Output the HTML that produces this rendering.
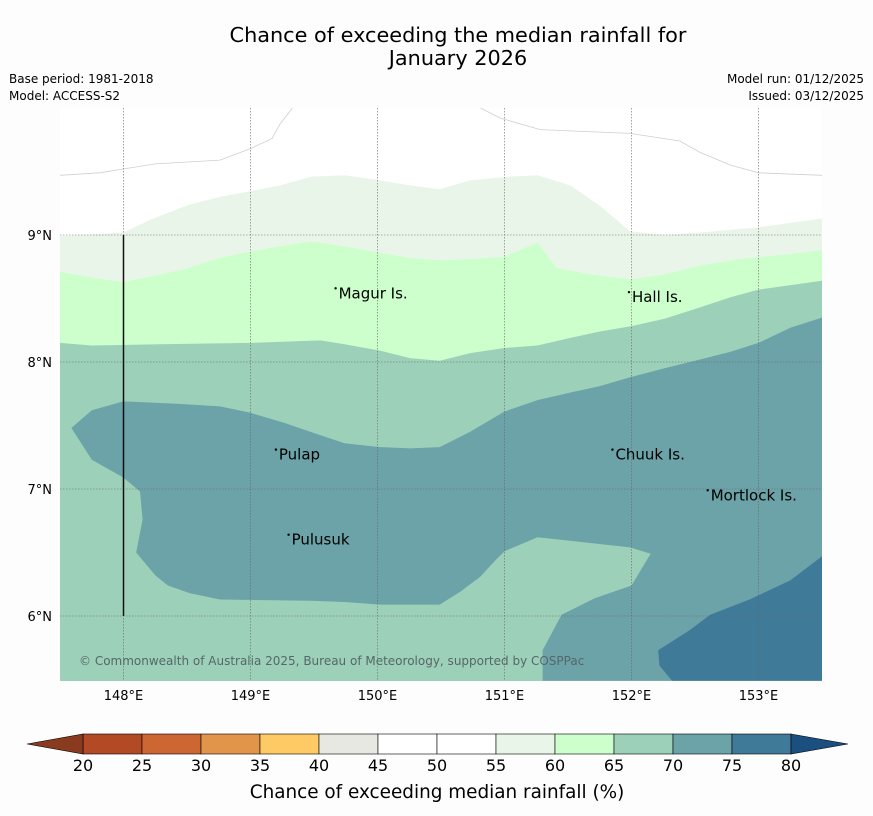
<!DOCTYPE html>
<html><head><meta charset="utf-8"><style>
body{margin:0;background:#fdfdfd;font-family:"Liberation Sans","DejaVu Sans",sans-serif;}
svg{display:block}
</style></head><body>
<svg id="chart" width="873" height="816" viewBox="0 0 873 816" xmlns="http://www.w3.org/2000/svg">
<rect width="873" height="816" fill="#fdfdfd"/>
<text x="458" y="42" font-size="20.8" text-anchor="middle" fill="#000" font-family="DejaVu Sans, sans-serif">Chance of exceeding the median rainfall for</text>
<text x="458" y="65" font-size="20.8" text-anchor="middle" fill="#000" font-family="DejaVu Sans, sans-serif">January 2026</text>
<text x="9" y="83" font-size="12" font-family="DejaVu Sans, sans-serif">Base period: 1981-2018</text>
<text x="9" y="100" font-size="12" font-family="DejaVu Sans, sans-serif">Model: ACCESS-S2</text>
<text x="864" y="83" font-size="12" text-anchor="end" font-family="DejaVu Sans, sans-serif">Model run: 01/12/2025</text>
<text x="864" y="100" font-size="12" text-anchor="end" font-family="DejaVu Sans, sans-serif">Issued: 03/12/2025</text>
<defs><clipPath id="mapclip"><rect x="60" y="108" width="762" height="573"/></clipPath></defs>
<g id="map" clip-path="url(#mapclip)"></g>
<g id="axes"></g>
<g id="cbar"></g>
<text x="437" y="798" font-size="18.4" text-anchor="middle" font-family="DejaVu Sans, sans-serif">Chance of exceeding median rainfall (%)</text>
</svg>
<script>
// ---- data ----
const lonTicks = [148,149,150,151,152,153];
const latTicks = [9,8,7,6];
const cbLevels = [20,25,30,35,40,45,50,55,60,65,70,75,80];
const cbColors = ["#b34a26","#cc6633","#e0954a","#fdca65","#e8e8e3","#ffffff","#ffffff","#eaf5ea","#ccffcc","#9dd0b9","#6ba3a8","#3f7a99"];
const contourLevels = [55,60,65,70,75];
// polygon boundaries in [lon,lat]
const band55 = [[147.5,8.99],[148.0,9.02],[148.21,9.12],[148.52,9.24],[148.76,9.30],[149.23,9.39],[149.48,9.46],[149.74,9.47],[150.02,9.43],[150.26,9.39],[150.49,9.36],[150.73,9.43],[151.04,9.46],[151.26,9.47],[151.52,9.39],[151.75,9.23],[151.99,9.03],[152.26,9.0],[152.54,9.02],[153.0,9.06],[153.5,9.13]];
const band60 = [[147.5,8.71],[147.78,8.66],[148.0,8.63],[148.25,8.68],[148.48,8.73],[148.76,8.82],[149.0,8.87],[149.23,8.91],[149.48,8.95],[149.74,8.91],[150.02,8.86],[150.26,8.82],[150.49,8.80],[150.73,8.81],[151.0,8.83],[151.26,8.94],[151.41,8.74],[151.67,8.69],[151.99,8.65],[152.26,8.69],[152.54,8.76],[152.85,8.81],[153.25,8.85],[153.5,8.88]];
const band65 = [[147.5,8.15],[147.75,8.13],[148.29,8.14],[149.0,8.15],[149.55,8.17],[149.74,8.14],[150.02,8.09],[150.26,8.03],[150.49,8.01],[150.73,8.07],[151.0,8.11],[151.26,8.13],[151.52,8.19],[151.75,8.24],[151.99,8.28],[152.26,8.34],[152.54,8.43],[152.78,8.51],[153.0,8.57],[153.5,8.64]];
const blob70 = [[147.59,7.48],[147.75,7.62],[148.0,7.69],[148.44,7.67],[148.76,7.65],[149.0,7.60],[149.27,7.52],[149.47,7.45],[149.74,7.36],[150.02,7.33],[150.26,7.32],[150.49,7.33],[150.73,7.45],[151.0,7.61],[151.26,7.70],[151.52,7.76],[151.75,7.81],[151.99,7.88],[152.26,7.95],[152.54,8.02],[152.78,8.08],[153.0,8.15],[153.25,8.27],[153.5,8.35],[153.5,5.49],[151.3,5.49],[151.3,5.73],[151.45,6.01],[151.71,6.14],[152.0,6.24],[152.15,6.49],[151.99,6.54],[151.26,6.62],[151.0,6.51],[150.93,6.44],[150.81,6.31],[150.65,6.19],[150.49,6.09],[150.26,6.09],[150.02,6.09],[149.74,6.11],[149.47,6.12],[148.76,6.13],[148.52,6.18],[148.35,6.24],[148.25,6.32],[148.1,6.50],[148.15,6.76],[148.13,6.98],[148.0,7.09],[147.75,7.23]];
const blob75 = [[152.21,5.73],[152.46,5.89],[152.62,6.01],[152.93,6.13],[153.25,6.28],[153.5,6.47],[153.5,5.49],[152.32,5.49],[152.22,5.61]];
const line50a = [[147.5,9.47],[147.81,9.49],[148.25,9.56],[148.76,9.59],[149.0,9.68],[149.17,9.76],[149.23,9.87],[149.33,10.0]];
const line50b = [[150.81,10.0],[150.97,9.92],[151.28,9.83],[151.99,9.80],[152.38,9.74],[152.54,9.65],[152.78,9.55],[153.0,9.49],[153.5,9.47]];
const islandNames = ["Magur Is.","Hall Is.","Pulap","Chuuk Is.","Mortlock Is.","Pulusuk"];
const islandLon = [149.67,151.98,149.2,151.85,152.6,149.3];
const islandLat = [8.58,8.55,7.31,7.31,6.99,6.64];
const blackLine = [[148.0,9.0],[148.0,6.0]];

// ---- axes ----
const X0=60,Y0=108,S=127;
const xs = lon => X0+(lon-147.5)*S;
const ys = lat => Y0+(10-lat)*S;
const cbx = v => 83+(v-20)*(708/60);
const NS='http://www.w3.org/2000/svg';
const map=document.getElementById('map'), axes=document.getElementById('axes'), cbar=document.getElementById('cbar');
function mk(tag,attrs,parent){const e=document.createElementNS(NS,tag);for(const k in attrs)e.setAttribute(k,attrs[k]);parent.appendChild(e);return e;}
const pts = arr => arr.map(p=>xs(p[0]).toFixed(1)+','+ys(p[1]).toFixed(1)).join(' ');

let bg=mk('rect',{x:60,y:108,width:762,height:573,fill:'#ffffff'},map);


function fillBelow(line,color,name){
  const poly=line.concat([[153.5,5.4],[147.5,5.4]]);
  const e=mk('polygon',{points:pts(poly),fill:color},map);
  
  
}
fillBelow(band55,cbColors[7],'contour-55-60');
fillBelow(band60,cbColors[8],'contour-60-65');
fillBelow(band65,cbColors[9],'contour-65-70');
let b70=mk('polygon',{points:pts(blob70),fill:cbColors[10]},map);


let b75=mk('polygon',{points:pts(blob75),fill:cbColors[11]},map);


[line50a,line50b].forEach(l=>{
  let e=mk('polyline',{points:pts(l),fill:'none',stroke:'#cfcfcf','stroke-width':0.8},map);
  
  
});
lonTicks.forEach(t=>{
  let g=mk('line',{x1:xs(t),x2:xs(t),y1:108,y2:681,stroke:'#666','stroke-width':0.6,'stroke-dasharray':'1.5,1.5'},map);
  
  
  let l=mk('text',{x:xs(t),y:700,'font-size':13,'text-anchor':'middle','font-family':'DejaVu Sans, sans-serif'},axes);
  l.textContent=t+'°E';
  
  
});
latTicks.forEach(t=>{
  let g=mk('line',{x1:60,x2:822,y1:ys(t),y2:ys(t),stroke:'#666','stroke-width':0.6,'stroke-dasharray':'1.5,1.5'},map);
  
  
  let l=mk('text',{x:52,y:ys(t)+5,'font-size':13,'text-anchor':'end','font-family':'DejaVu Sans, sans-serif'},axes);
  l.textContent=t+'°N';
  
  
});
let bl=mk('line',{x1:xs(blackLine[0][0]),x2:xs(blackLine[1][0]),y1:ys(blackLine[0][1]),y2:ys(blackLine[1][1]),stroke:'#111','stroke-width':1.5},map);


islandNames.forEach((n,i)=>{
  let d=mk('circle',{cx:xs(islandLon[i]),cy:ys(islandLat[i]),r:1.2,fill:'#000'},map);
  
  
  let t=mk('text',{x:xs(islandLon[i])+3,y:ys(islandLat[i])+10,'font-size':15,'font-family':'DejaVu Sans, sans-serif',fill:'#000'},map);
  t.textContent=n;
  
  
});
let cp=mk('text',{x:79,y:665,'font-size':12,fill:'#55676a','font-family':'DejaVu Sans, sans-serif'},map);
cp.textContent='© Commonwealth of Australia 2025, Bureau of Meteorology, supported by COSPPac';



// colorbar
for(let i=0;i<cbColors.length;i++){
  let r=mk('rect',{x:cbx(cbLevels[i]),y:734,width:cbx(cbLevels[i+1])-cbx(cbLevels[i]),height:20,fill:cbColors[i],stroke:'#000','stroke-width':0.6},cbar);
  
  
}
let lt=mk('polygon',{points:`27,744 ${cbx(20)},734 ${cbx(20)},754`,fill:'#8a3a1e',stroke:'#000','stroke-width':0.6},cbar);


let rt=mk('polygon',{points:`${cbx(80)},734 848,744 ${cbx(80)},754`,fill:'#1a4f80',stroke:'#000','stroke-width':0.6},cbar);


cbLevels.forEach(v=>{
  let t=mk('text',{x:cbx(v),y:771,'font-size':16,'text-anchor':'middle','font-family':'DejaVu Sans, sans-serif'},cbar);
  t.textContent=v;
  
  
});
</script>
</body></html>
